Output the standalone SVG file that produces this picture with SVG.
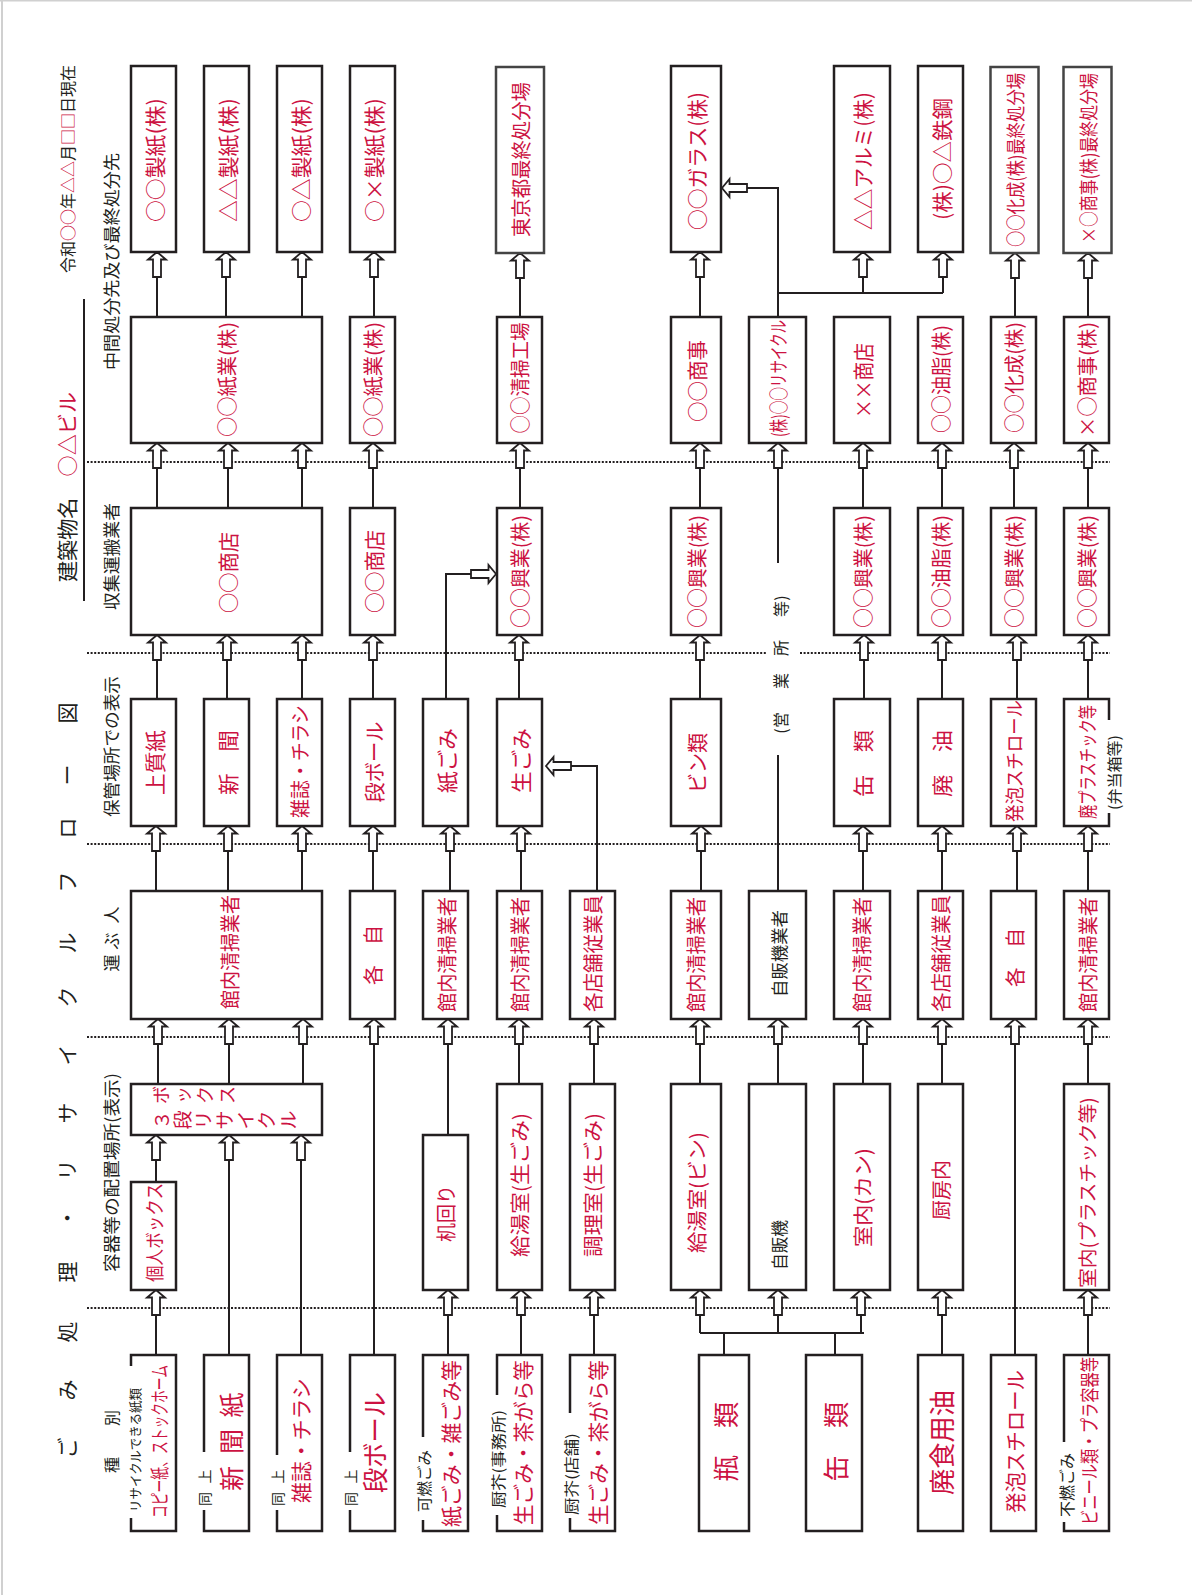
<svg xmlns="http://www.w3.org/2000/svg" width="1192" height="1595" viewBox="0 0 1192 1595">
<style>
text{font-family:"Noto Sans CJK JP","Noto Sans CJK SC",sans-serif;text-anchor:middle;dominant-baseline:central}
.r{fill:#cc1242}
.k{fill:#231f20}
.b{fill:#fff;stroke:#231f20;stroke-width:2.5}
.g{fill:#fff;stroke:#444;stroke-width:2.5}
.l{fill:none;stroke:#231f20;stroke-width:2}
.d{fill:none;stroke:#231f20;stroke-width:2;stroke-dasharray:2 1.6}
.a{fill:#fff;stroke:#231f20;stroke-width:1.8}
</style>
<defs><path id="au" class="a" d="M0,0 L9,7.5 L4,7.5 L4,25 L-4,25 L-4,7.5 L-9,7.5 Z"/></defs>
<rect width="1192" height="1595" fill="#fff"/>
<path d="M0,0.5H1192 M2,0V1595" stroke="#d0d0d0" stroke-width="2" fill="none"/>

<g id="dividers">
<path class="d" d="M87,462H1110 M87,653H767 M800,653H1110 M87,844H1110 M87,1037H1110 M87,1308H1110"/>
</g>

<g id="headers">
<text class="k" transform="rotate(-90)" x="-1448 -1390 -1332 -1272 -1218 -1170 -1113 -1055 -997 -943 -882 -828 -775 -713" y="66" font-size="21">ごみ処理・リサイクルフロー図</text>
<text class="k" transform="rotate(-90)" x="-169" y="67" font-size="16" textLength="208" lengthAdjust="spacingAndGlyphs">令和<tspan class="r">○○</tspan>年<tspan class="r">△△</tspan>月<tspan class="r">□□</tspan>日現在</text>
<text class="k" transform="rotate(-90)" x="-487" y="66" font-size="21" textLength="190" lengthAdjust="spacingAndGlyphs">建築物名　<tspan class="r">○△ビル</tspan></text>
<line class="l" x1="84" y1="299" x2="84" y2="601"/>
<text class="k" transform="rotate(-90)" x="-261.5" y="110.5" font-size="17" textLength="217" lengthAdjust="spacingAndGlyphs">中間処分先及び最終処分先</text>
<text class="k" transform="rotate(-90)" x="-556.5" y="110.5" font-size="17" textLength="107" lengthAdjust="spacingAndGlyphs">収集運搬業者</text>
<text class="k" transform="rotate(-90)" x="-746.5" y="110.5" font-size="17" textLength="141" lengthAdjust="spacingAndGlyphs">保管場所での表示</text>
<text class="k" transform="rotate(-90)" x="-963 -941 -915" y="110.5" font-size="17">運ぶ人</text>
<text class="k" transform="rotate(-90)" x="-1172.5" y="110.5" font-size="17" textLength="199" lengthAdjust="spacingAndGlyphs">容器等の配置場所(表示)</text>
<text class="k" transform="rotate(-90)" x="-1465 -1418" y="110.5" font-size="16">種別</text>
</g>

<g id="connectors">
<path class="l" d="M157,277V317 M226,277V317 M302,277V317 M374,277V317 M520,278V317 M700,277V317 M863,277V293 M943,277V293 M1015,278V317 M1088,278V317 M778,317V188H747 M778,293H943
M157,468V508 M228,468V508 M302,468V508 M373,468V508 M520,468V508 M700,468V508 M863,468V508 M942,468V508 M1014,468V508 M1088,468V508 M778,468V563
M157,660V699 M227,660V699 M302,660V699 M373,660V699 M519,660V699 M700,660V699 M864,660V699 M942,660V699 M1017,660V699 M1088,660V699 M446,699V574H472
M156,851V891 M228,851V891 M302,851V891 M373,851V891 M450,851V891 M521,851V891 M701,851V891 M863,851V891 M942,851V891 M1017,851V891 M1088,851V891 M597,891V766H571 M778,891V755
M158,1044V1084 M229,1044V1084 M303,1044V1084 M374,1044V1355 M448,1044V1135 M519,1044V1084 M594,1044V1084 M700,1044V1084 M778,1044V1084 M863,1044V1084 M942,1044V1084 M1015,1044V1355 M1088,1044V1084
M156,1315V1355 M448,1315V1355 M521,1315V1355 M594,1315V1355 M942,1315V1355 M1088,1315V1355 M700,1315V1333 M778,1315V1333 M861,1315V1333 M700,1333H864 M724,1333V1355 M835,1333V1355 M156,1160V1182 M229,1160V1355 M301,1160V1355"/>
<use href="#au" x="157" y="252"/><use href="#au" x="226" y="252"/><use href="#au" x="302" y="252"/><use href="#au" x="374" y="252"/><use href="#au" x="520" y="253"/><use href="#au" x="700" y="252"/><use href="#au" x="863" y="252"/><use href="#au" x="943" y="252"/><use href="#au" x="1015" y="253"/><use href="#au" x="1088" y="253"/>
<use href="#au" x="157" y="443"/><use href="#au" x="228" y="443"/><use href="#au" x="302" y="443"/><use href="#au" x="373" y="443"/><use href="#au" x="520" y="443"/><use href="#au" x="700" y="443"/><use href="#au" x="778" y="443"/><use href="#au" x="863" y="443"/><use href="#au" x="942" y="443"/><use href="#au" x="1014" y="443"/><use href="#au" x="1088" y="443"/>
<use href="#au" x="157" y="635"/><use href="#au" x="227" y="635"/><use href="#au" x="302" y="635"/><use href="#au" x="373" y="635"/><use href="#au" x="519" y="635"/><use href="#au" x="700" y="635"/><use href="#au" x="864" y="635"/><use href="#au" x="942" y="635"/><use href="#au" x="1017" y="635"/><use href="#au" x="1088" y="635"/>
<use href="#au" x="156" y="826"/><use href="#au" x="228" y="826"/><use href="#au" x="302" y="826"/><use href="#au" x="373" y="826"/><use href="#au" x="450" y="826"/><use href="#au" x="521" y="826"/><use href="#au" x="701" y="826"/><use href="#au" x="863" y="826"/><use href="#au" x="942" y="826"/><use href="#au" x="1017" y="826"/><use href="#au" x="1088" y="826"/>
<use href="#au" x="158" y="1019"/><use href="#au" x="229" y="1019"/><use href="#au" x="303" y="1019"/><use href="#au" x="374" y="1019"/><use href="#au" x="448" y="1019"/><use href="#au" x="519" y="1019"/><use href="#au" x="594" y="1019"/><use href="#au" x="700" y="1019"/><use href="#au" x="778" y="1019"/><use href="#au" x="863" y="1019"/><use href="#au" x="942" y="1019"/><use href="#au" x="1015" y="1019"/><use href="#au" x="1088" y="1019"/>
<use href="#au" x="156" y="1290"/><use href="#au" x="448" y="1290"/><use href="#au" x="521" y="1290"/><use href="#au" x="594" y="1290"/><use href="#au" x="700" y="1290"/><use href="#au" x="778" y="1290"/><use href="#au" x="861" y="1290"/><use href="#au" x="942" y="1290"/><use href="#au" x="1088" y="1290"/>
<use href="#au" x="156" y="1135"/><use href="#au" x="229" y="1135"/><use href="#au" x="301" y="1135"/>
<use href="#au" transform="translate(722,188) rotate(-90)"/>
<use href="#au" transform="translate(496,574) rotate(90)"/>
<use href="#au" transform="translate(546,766) rotate(-90)"/>
<text class="k" transform="rotate(-90)" x="-731 -720 -681 -648 -609 -598" y="780" font-size="16">(営業所等)</text>
</g>

<g id="f1"><rect class="b" x="131" y="66" width="45" height="186"/><text class="r" transform="rotate(-90)" x="-160" y="153.5" font-size="21" textLength="124" lengthAdjust="spacingAndGlyphs">○○製紙(株)</text></g>
<g id="f2"><rect class="b" x="204" y="66" width="45" height="186"/><text class="r" transform="rotate(-90)" x="-160" y="226.5" font-size="21" textLength="124" lengthAdjust="spacingAndGlyphs">△△製紙(株)</text></g>
<g id="f3"><rect class="b" x="277" y="66" width="45" height="186"/><text class="r" transform="rotate(-90)" x="-160" y="299.5" font-size="21" textLength="124" lengthAdjust="spacingAndGlyphs">○△製紙(株)</text></g>
<g id="f4"><rect class="b" x="350" y="66" width="45" height="186"/><text class="r" transform="rotate(-90)" x="-160" y="372.5" font-size="21" textLength="124" lengthAdjust="spacingAndGlyphs">○×製紙(株)</text></g>
<g id="f5"><rect class="g" x="496" y="67" width="48" height="186"/><text class="r" transform="rotate(-90)" x="-159.5" y="520" font-size="20" textLength="155" lengthAdjust="spacingAndGlyphs">東京都最終処分場</text></g>
<g id="f6"><rect class="b" x="671" y="66" width="50" height="186"/><text class="r" transform="rotate(-90)" x="-161" y="696" font-size="21" textLength="138" lengthAdjust="spacingAndGlyphs">○○ガラス(株)</text></g>
<g id="f7"><rect class="b" x="834" y="66" width="56" height="186"/><text class="r" transform="rotate(-90)" x="-161" y="862" font-size="21" textLength="138" lengthAdjust="spacingAndGlyphs">△△アルミ(株)</text></g>
<g id="f8"><rect class="b" x="918" y="66" width="45" height="186"/><text class="r" transform="rotate(-90)" x="-159" y="940.5" font-size="21" textLength="122" lengthAdjust="spacingAndGlyphs">(株)○△鉄鋼</text></g>
<g id="f9"><rect class="g" x="990.5" y="67" width="48" height="186"/><text class="r" transform="rotate(-90)" x="-160" y="1014.5" font-size="19" textLength="174" lengthAdjust="spacingAndGlyphs">○○化成(株)最終処分場</text></g>
<g id="f10"><rect class="g" x="1063.5" y="67" width="48" height="186"/><text class="r" transform="rotate(-90)" x="-158" y="1087.5" font-size="19" textLength="170" lengthAdjust="spacingAndGlyphs">×○商事(株)最終処分場</text></g>

<g id="m1"><rect class="b" x="131" y="317" width="191" height="126"/><text class="r" transform="rotate(-90)" x="-379.5" y="226.5" font-size="20" textLength="115" lengthAdjust="spacingAndGlyphs">○○紙業(株)</text></g>
<g id="m4"><rect class="b" x="350" y="317" width="45" height="126"/><text class="r" transform="rotate(-90)" x="-379.5" y="372.5" font-size="20" textLength="115" lengthAdjust="spacingAndGlyphs">○○紙業(株)</text></g>
<g id="m6"><rect class="b" x="497" y="317" width="45" height="126"/><text class="r" transform="rotate(-90)" x="-378" y="519.5" font-size="20" textLength="111" lengthAdjust="spacingAndGlyphs">○○清掃工場</text></g>
<g id="m8"><rect class="b" x="671" y="317" width="50" height="126"/><text class="r" transform="rotate(-90)" x="-381" y="696" font-size="21" textLength="82" lengthAdjust="spacingAndGlyphs">○○商事</text></g>
<g id="m9"><rect class="b" x="749" y="317" width="57" height="126"/><text class="r" transform="rotate(-90)" x="-378.5" y="777.5" font-size="19" textLength="117" lengthAdjust="spacingAndGlyphs">(株)○○リサイクル</text></g>
<g id="m10"><rect class="b" x="834" y="317" width="56" height="126"/><text class="r" transform="rotate(-90)" x="-380.5" y="862" font-size="21" textLength="75" lengthAdjust="spacingAndGlyphs">××商店</text></g>
<g id="m11"><rect class="b" x="918" y="317" width="45" height="126"/><text class="r" transform="rotate(-90)" x="-379" y="940.5" font-size="20" textLength="108" lengthAdjust="spacingAndGlyphs">○○油脂(株)</text></g>
<g id="m12"><rect class="b" x="991" y="317" width="45" height="126"/><text class="r" transform="rotate(-90)" x="-377.5" y="1013.5" font-size="20" textLength="111" lengthAdjust="spacingAndGlyphs">○○化成(株)</text></g>
<g id="m13"><rect class="b" x="1064" y="317" width="45" height="126"/><text class="r" transform="rotate(-90)" x="-379.5" y="1086.5" font-size="20" textLength="115" lengthAdjust="spacingAndGlyphs">×○商事(株)</text></g>

<g id="k1"><rect class="b" x="131" y="508" width="191" height="127"/><text class="r" transform="rotate(-90)" x="-572.5" y="226.5" font-size="21" textLength="81" lengthAdjust="spacingAndGlyphs">○○商店</text></g>
<g id="k4"><rect class="b" x="350" y="508" width="45" height="127"/><text class="r" transform="rotate(-90)" x="-571.5" y="372.5" font-size="21" textLength="83" lengthAdjust="spacingAndGlyphs">○○商店</text></g>
<g id="k6"><rect class="b" x="497" y="508" width="45" height="127"/><text class="r" transform="rotate(-90)" x="-571.5" y="519.5" font-size="20" textLength="113" lengthAdjust="spacingAndGlyphs">○○興業(株)</text></g>
<g id="k8"><rect class="b" x="671" y="508" width="50" height="127"/><text class="r" transform="rotate(-90)" x="-571.5" y="696" font-size="20" textLength="113" lengthAdjust="spacingAndGlyphs">○○興業(株)</text></g>
<g id="k10"><rect class="b" x="834" y="508" width="56" height="127"/><text class="r" transform="rotate(-90)" x="-571.5" y="862" font-size="20" textLength="113" lengthAdjust="spacingAndGlyphs">○○興業(株)</text></g>
<g id="k11"><rect class="b" x="918" y="508" width="45" height="127"/><text class="r" transform="rotate(-90)" x="-571.5" y="940.5" font-size="20" textLength="113" lengthAdjust="spacingAndGlyphs">○○油脂(株)</text></g>
<g id="k12"><rect class="b" x="991" y="508" width="45" height="127"/><text class="r" transform="rotate(-90)" x="-571.5" y="1013.5" font-size="20" textLength="113" lengthAdjust="spacingAndGlyphs">○○興業(株)</text></g>
<g id="k13"><rect class="b" x="1064" y="508" width="45" height="127"/><text class="r" transform="rotate(-90)" x="-571.5" y="1086.5" font-size="20" textLength="113" lengthAdjust="spacingAndGlyphs">○○興業(株)</text></g>

<g id="s1"><rect class="b" x="131" y="699" width="45" height="127"/><text class="r" transform="rotate(-90)" x="-762.5" y="153.5" font-size="21" textLength="65" lengthAdjust="spacingAndGlyphs">上質紙</text></g>
<g id="s2"><rect class="b" x="204" y="699" width="45" height="127"/><text class="r" transform="rotate(-90)" x="-762.5" y="226.5" font-size="21" textLength="65" lengthAdjust="spacingAndGlyphs">新　聞</text></g>
<g id="s3"><rect class="b" x="277" y="699" width="45" height="127"/><text class="r" transform="rotate(-90)" x="-761.5" y="299.5" font-size="20" textLength="113" lengthAdjust="spacingAndGlyphs">雑誌・チラシ</text></g>
<g id="s4"><rect class="b" x="350" y="699" width="45" height="127"/><text class="r" transform="rotate(-90)" x="-762" y="372.5" font-size="21" textLength="81" lengthAdjust="spacingAndGlyphs">段ボール</text></g>
<g id="s5"><rect class="b" x="423" y="699" width="45" height="127"/><text class="r" transform="rotate(-90)" x="-760.5" y="445.5" font-size="21" textLength="65" lengthAdjust="spacingAndGlyphs">紙ごみ</text></g>
<g id="s6"><rect class="b" x="497" y="699" width="45" height="127"/><text class="r" transform="rotate(-90)" x="-760.5" y="519.5" font-size="21" textLength="65" lengthAdjust="spacingAndGlyphs">生ごみ</text></g>
<g id="s8"><rect class="b" x="671" y="699" width="50" height="127"/><text class="r" transform="rotate(-90)" x="-763" y="696" font-size="21" textLength="60" lengthAdjust="spacingAndGlyphs">ビン類</text></g>
<g id="s10"><rect class="b" x="834" y="699" width="56" height="127"/><text class="r" transform="rotate(-90)" x="-763.5" y="862" font-size="21" textLength="67" lengthAdjust="spacingAndGlyphs">缶　類</text></g>
<g id="s11"><rect class="b" x="918" y="699" width="45" height="127"/><text class="r" transform="rotate(-90)" x="-763.5" y="940.5" font-size="21" textLength="67" lengthAdjust="spacingAndGlyphs">廃　油</text></g>
<g id="s12"><rect class="b" x="991" y="699" width="45" height="127"/><text class="r" transform="rotate(-90)" x="-761" y="1013.5" font-size="19" textLength="122" lengthAdjust="spacingAndGlyphs">発泡スチロール</text></g>
<g id="s13"><path class="b" d="M1109,720V699H1064V826H1109V813"/><text class="r" transform="rotate(-90)" x="-762" y="1086.5" font-size="19" textLength="114" lengthAdjust="spacingAndGlyphs">廃プラスチック等</text><text class="k" transform="rotate(-90)" x="-772.5" y="1113.5" font-size="15" textLength="75" lengthAdjust="spacingAndGlyphs">(弁当箱等)</text></g>

<g id="c1"><rect class="b" x="131" y="891" width="191" height="128"/><text class="r" transform="rotate(-90)" x="-952" y="229" font-size="20" textLength="114" lengthAdjust="spacingAndGlyphs">館内清掃業者</text></g>
<g id="c4"><rect class="b" x="350" y="891" width="45" height="128"/><text class="r" transform="rotate(-90)" x="-955" y="372.5" font-size="20" textLength="60" lengthAdjust="spacingAndGlyphs">各　自</text></g>
<g id="c5"><rect class="b" x="423" y="891" width="45" height="128"/><text class="r" transform="rotate(-90)" x="-954.5" y="446" font-size="20" textLength="115" lengthAdjust="spacingAndGlyphs">館内清掃業者</text></g>
<g id="c6"><rect class="b" x="497" y="891" width="45" height="128"/><text class="r" transform="rotate(-90)" x="-954.5" y="519" font-size="20" textLength="115" lengthAdjust="spacingAndGlyphs">館内清掃業者</text></g>
<g id="c7"><rect class="b" x="570" y="891" width="45" height="128"/><text class="r" transform="rotate(-90)" x="-953.5" y="592" font-size="20" textLength="117" lengthAdjust="spacingAndGlyphs">各店舗従業員</text></g>
<g id="c8"><rect class="b" x="671" y="891" width="50" height="128"/><text class="r" transform="rotate(-90)" x="-954.5" y="695.5" font-size="20" textLength="115" lengthAdjust="spacingAndGlyphs">館内清掃業者</text></g>
<g id="c9"><rect class="b" x="749" y="891" width="57" height="128"/><text class="k" transform="rotate(-90)" x="-953.5" y="778" font-size="17" textLength="87" lengthAdjust="spacingAndGlyphs">自販機業者</text></g>
<g id="c10"><rect class="b" x="834" y="891" width="56" height="128"/><text class="r" transform="rotate(-90)" x="-954.5" y="861" font-size="20" textLength="115" lengthAdjust="spacingAndGlyphs">館内清掃業者</text></g>
<g id="c11"><rect class="b" x="918" y="891" width="45" height="128"/><text class="r" transform="rotate(-90)" x="-953.5" y="940" font-size="20" textLength="117" lengthAdjust="spacingAndGlyphs">各店舗従業員</text></g>
<g id="c12"><rect class="b" x="991" y="891" width="45" height="128"/><text class="r" transform="rotate(-90)" x="-957.5" y="1014" font-size="20" textLength="59" lengthAdjust="spacingAndGlyphs">各　自</text></g>
<g id="c13"><rect class="b" x="1064" y="891" width="45" height="128"/><text class="r" transform="rotate(-90)" x="-954.5" y="1087" font-size="20" textLength="115" lengthAdjust="spacingAndGlyphs">館内清掃業者</text></g>

<g id="p3"><rect class="b" x="131" y="1084" width="191" height="51"/><text class="r" transform="rotate(-90)" x="-1095 -1095 -1095 -1095" y="160 182 204 226" font-size="18">ボックス</text><text class="r" transform="rotate(-90)" x="-1120 -1120 -1120 -1120 -1120 -1120 -1120" y="160 181 202 223 244 265 287" font-size="19">３段リサイクル</text></g>
<g id="p1"><rect class="b" x="131" y="1182" width="45" height="108"/><text class="r" transform="rotate(-90)" x="-1232.5" y="153.5" font-size="19" textLength="99" lengthAdjust="spacingAndGlyphs">個人ボックス</text></g>
<g id="p5"><rect class="b" x="423" y="1135" width="45" height="155"/><text class="r" transform="rotate(-90)" x="-1213.5" y="445.5" font-size="20" textLength="57" lengthAdjust="spacingAndGlyphs">机回り</text></g>
<g id="p6"><rect class="b" x="497" y="1084" width="45" height="206"/><text class="r" transform="rotate(-90)" x="-1185" y="519.5" font-size="20" textLength="144" lengthAdjust="spacingAndGlyphs">給湯室(生ごみ)</text></g>
<g id="p7"><rect class="b" x="570" y="1084" width="45" height="206"/><text class="r" transform="rotate(-90)" x="-1185" y="592.5" font-size="20" textLength="144" lengthAdjust="spacingAndGlyphs">調理室(生ごみ)</text></g>
<g id="p8"><rect class="b" x="671" y="1084" width="50" height="206"/><text class="r" transform="rotate(-90)" x="-1192.5" y="696" font-size="20" textLength="121" lengthAdjust="spacingAndGlyphs">給湯室(ビン)</text></g>
<g id="p9"><rect class="b" x="749" y="1084" width="57" height="206"/><text class="k" transform="rotate(-90)" x="-1245" y="778" font-size="17" textLength="50" lengthAdjust="spacingAndGlyphs">自販機</text></g>
<g id="p10"><rect class="b" x="834" y="1084" width="56" height="206"/><text class="r" transform="rotate(-90)" x="-1197.5" y="862" font-size="20" textLength="99" lengthAdjust="spacingAndGlyphs">室内(カン)</text></g>
<g id="p11"><rect class="b" x="918" y="1084" width="45" height="206"/><text class="r" transform="rotate(-90)" x="-1190" y="940.5" font-size="20" textLength="60" lengthAdjust="spacingAndGlyphs">厨房内</text></g>
<g id="p13"><rect class="b" x="1064" y="1084" width="45" height="206"/><text class="r" transform="rotate(-90)" x="-1192.5" y="1086.5" font-size="19" textLength="191" lengthAdjust="spacingAndGlyphs">室内(プラスチック等)</text></g>

<g id="w1"><path class="b" d="M131,1366V1355H176V1531H131V1518"/><text class="r" transform="rotate(-90)" x="-1441.5" y="158" font-size="19" textLength="153" lengthAdjust="spacingAndGlyphs">コピー紙、ストックホーム</text><text class="k" transform="rotate(-90)" x="-1450" y="134" font-size="13" textLength="124" lengthAdjust="spacingAndGlyphs">リサイクルできる紙類</text></g>
<g id="w2"><path class="b" d="M204,1452V1355H249V1531H204V1510"/><text class="r" transform="rotate(-90)" x="-1478.5 -1441.5 -1405" y="230" font-size="25">新聞紙</text><text class="k" transform="rotate(-90)" x="-1499 -1476.5" y="203.5" font-size="14">同上</text></g>
<g id="w3"><path class="b" d="M277,1455V1355H322V1531H277V1510"/><text class="r" transform="rotate(-90)" x="-1440.5" y="300" font-size="21" textLength="125" lengthAdjust="spacingAndGlyphs">雑誌・チラシ</text><text class="k" transform="rotate(-90)" x="-1499 -1476.5" y="277" font-size="14">同上</text></g>
<g id="w4"><path class="b" d="M350,1452V1355H395V1531H350V1510"/><text class="r" transform="rotate(-90)" x="-1442.5" y="373" font-size="26" textLength="101" lengthAdjust="spacingAndGlyphs">段ボール</text><text class="k" transform="rotate(-90)" x="-1499 -1476.5" y="350" font-size="14">同上</text></g>
<g id="w5"><path class="b" d="M423,1437V1355H468V1531H423V1520"/><text class="r" transform="rotate(-90)" x="-1443.5" y="450" font-size="21" textLength="167" lengthAdjust="spacingAndGlyphs">紙ごみ・雑ごみ等</text><text class="k" transform="rotate(-90)" x="-1481" y="423.5" font-size="15" textLength="62" lengthAdjust="spacingAndGlyphs">可燃ごみ</text></g>
<g id="w6"><path class="b" d="M497,1395V1355H542V1531H497V1515"/><text class="r" transform="rotate(-90)" x="-1442.5" y="522" font-size="21" textLength="165" lengthAdjust="spacingAndGlyphs">生ごみ・茶がら等</text><text class="k" transform="rotate(-90)" x="-1459" y="497" font-size="14.5" textLength="98" lengthAdjust="spacingAndGlyphs">厨芥(事務所)</text></g>
<g id="w7"><path class="b" d="M570,1413V1355H615V1531H570V1518"/><text class="r" transform="rotate(-90)" x="-1442.5" y="597" font-size="21" textLength="165" lengthAdjust="spacingAndGlyphs">生ごみ・茶がら等</text><text class="k" transform="rotate(-90)" x="-1474" y="570" font-size="14.5" textLength="82" lengthAdjust="spacingAndGlyphs">厨芥(店舗)</text></g>
<g id="w8"><rect class="b" x="699" y="1355" width="50" height="176"/><text class="r" transform="rotate(-90)" x="-1468.5 -1415" y="724" font-size="26">瓶類</text></g>
<g id="w9"><rect class="b" x="806" y="1355" width="56" height="176"/><text class="r" transform="rotate(-90)" x="-1468.5 -1415" y="834" font-size="26">缶類</text></g>
<g id="w10"><rect class="b" x="918" y="1355" width="45" height="176"/><text class="r" transform="rotate(-90)" x="-1442.5" y="940.5" font-size="26" textLength="105" lengthAdjust="spacingAndGlyphs">廃食用油</text></g>
<g id="w11"><rect class="b" x="991" y="1355" width="45" height="176"/><text class="r" transform="rotate(-90)" x="-1441.5" y="1013.5" font-size="21" textLength="143" lengthAdjust="spacingAndGlyphs">発泡スチロール</text></g>
<g id="w12"><path class="b" d="M1064,1442V1355H1109V1531H1064V1522"/><text class="r" transform="rotate(-90)" x="-1441" y="1088" font-size="19" textLength="168" lengthAdjust="spacingAndGlyphs">ビニール類・プラ容器等</text><text class="k" transform="rotate(-90)" x="-1485" y="1066" font-size="16" textLength="64" lengthAdjust="spacingAndGlyphs">不燃ごみ</text></g>
</svg>
